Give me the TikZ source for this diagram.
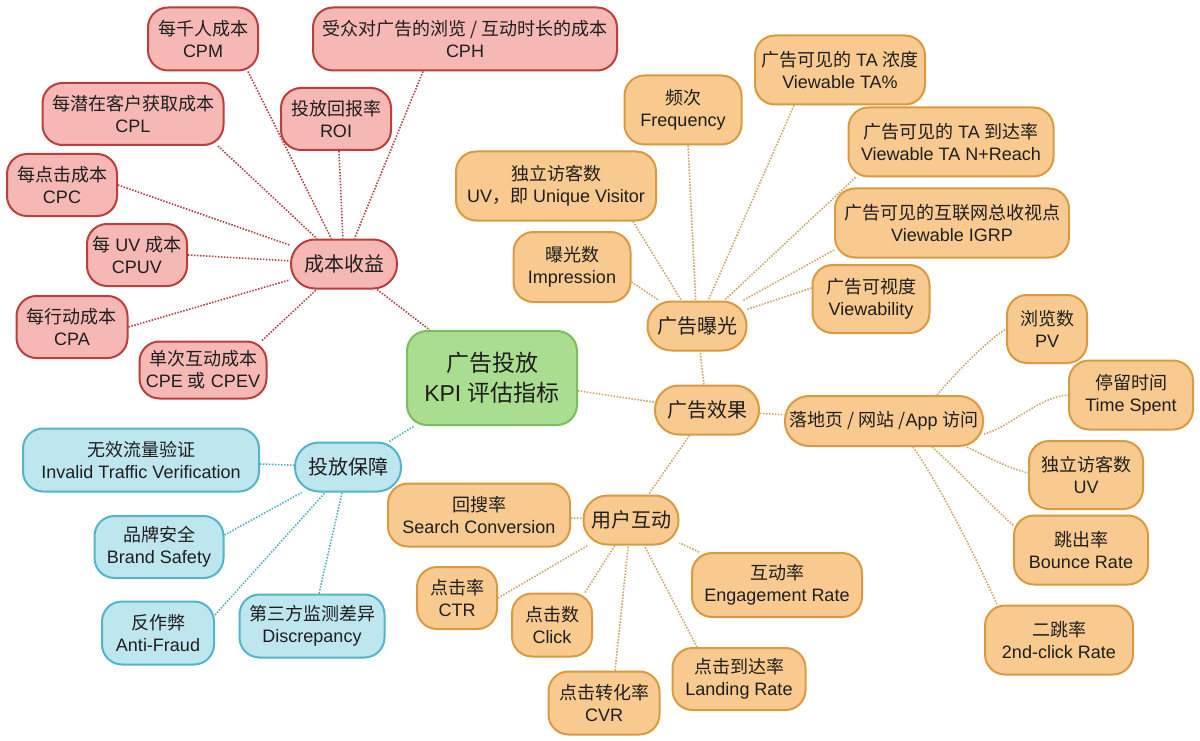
\documentclass[tikz,border=0pt]{standalone}
\usepackage{fontspec}
\setmainfont{Liberation Sans}
\newfontfamily\cjk{Noto Sans CJK SC}
\definecolor{rfill}{HTML}{F6B8B5}
\definecolor{rline}{HTML}{B9403C}
\definecolor{gfill}{HTML}{A9DD8F}
\definecolor{gline}{HTML}{79BF5C}
\definecolor{bfill}{HTML}{BEE6EF}
\definecolor{bline}{HTML}{52B5C9}
\definecolor{ofill}{HTML}{F8CA8F}
\definecolor{oline}{HTML}{D99A42}
\definecolor{redge}{HTML}{A94541}
\definecolor{bedge}{HTML}{4CAFC5}
\definecolor{oedge}{HTML}{CDA566}
\definecolor{txt}{HTML}{1E1E1E}
\tikzset{
  box/.style={draw, line width=2pt, rounded corners=20pt, align=center, inner sep=0pt,
    font=\fontsize{18}{22}\selectfont, text=txt},
  hub/.style={box, rounded corners=24pt, font=\fontsize{20}{24}\selectfont\cjk},
  sz/.style 2 args={minimum width=#1pt, minimum height=#2pt},
  rbox/.style={box, fill=rfill, draw=rline},
  bbox/.style={box, fill=bfill, draw=bline},
  obox/.style={box, fill=ofill, draw=oline},
  redg/.style={draw=redge, line width=1.6pt, dash pattern=on 1.5pt off 1.5pt},
  bedg/.style={draw=bedge, line width=1.6pt, dash pattern=on 1.5pt off 1.5pt},
  oedg/.style={draw=oedge, line width=1.6pt, dash pattern=on 1.5pt off 1.5pt}
}
\begin{document}
\begin{tikzpicture}[x=1pt,y=-1pt]
\useasboundingbox[fill=white] (0,0) rectangle (1200,741);

% red group
\node[rbox, sz={110}{63}] (cpm) at (203,39) {{\cjk 每千人成本}\\CPM};
\node[rbox, sz={304}{63}] (cph) at (465,39) {{\cjk 受众对广告的浏览 / 互动时长的成本}\\CPH};
\node[rbox, sz={181}{62}] (cpl) at (133,114) {{\cjk 每潜在客户获取成本}\\CPL};
\node[rbox, sz={110}{62}] (roi) at (336,119) {{\cjk 投放回报率}\\ROI};
\node[rbox, sz={110}{62}] (cpc) at (62,185) {{\cjk 每点击成本}\\CPC};
\node[rbox, sz={100}{62}] (cpuv) at (137,255) {{\cjk 每} UV {\cjk 成本}\\CPUV};
\node[rbox, hub, sz={106}{49}] (cb) at (344,264) {成本收益};
\node[rbox, sz={111}{62}] (cpa) at (72,327) {{\cjk 每行动成本}\\CPA};
\node[rbox, sz={127}{57}] (cpe) at (203,370) {{\cjk 单次互动成本}\\CPE {\cjk 或} CPEV};

% center
\node[box, fill=gfill, draw=gline, sz={170}{94}, font=\fontsize{23}{30}\selectfont] (kpi) at (492,378)
  {{\cjk 广告投放}\\KPI {\cjk 评估指标}};

% blue group
\node[bbox, hub, sz={106}{49}] (tb) at (348,467) {投放保障};
\node[bbox, sz={236}{63}] (ivt) at (141,460) {{\cjk 无效流量验证}\\Invalid Traffic Verification};
\node[bbox, sz={129}{62}] (bs) at (159,547) {{\cjk 品牌安全}\\Brand Safety};
\node[bbox, sz={112}{63}] (af) at (158,633) {{\cjk 反作弊}\\Anti-Fraud};
\node[bbox, sz={145}{63}] (dis) at (312,626) {{\cjk 第三方监测差异}\\Discrepancy};

% orange hubs
\node[obox, hub, sz={99}{49}] (bg) at (697,326) {广告曝光};
\node[obox, hub, sz={104}{49}] (xg) at (707,410) {广告效果};
\node[obox, hub, sz={95}{49}] (hd) at (631,520) {用户互动};
\node[obox, sz={198}{50}, rounded corners=24pt] (ldy) at (884,421) {{\cjk 落地页 / 网站 /}App {\cjk 访问}};

% exposure children
\node[obox, sz={117}{69}] (freq) at (683,110) {{\cjk 频次}\\Frequency};
\node[obox, sz={170}{69}] (tap) at (840,70) {{\cjk 广告可见的} TA {\cjk 浓度}\\Viewable TA\%};
\node[obox, sz={205}{69}] (tar) at (951,142) {{\cjk 广告可见的} TA {\cjk 到达率}\\Viewable TA N+Reach};
\node[obox, sz={200}{69}] (uv1) at (556,186) {{\cjk 独立访客数}\\UV{\cjk ，即} Unique Visitor};
\node[obox, sz={234}{69}] (igrp) at (952,223) {{\cjk 广告可见的互联网总收视点}\\Viewable IGRP};
\node[obox, sz={117}{70}] (imp) at (572,267) {{\cjk 曝光数}\\Impression};
\node[obox, sz={117}{68}] (vb) at (871,299) {{\cjk 广告可视度}\\Viewability};

% user interaction children
\node[obox, sz={182}{63}] (sc) at (479,515) {{\cjk 回搜率}\\Search Conversion};
\node[obox, sz={80}{62}] (ctr) at (457,598) {{\cjk 点击率}\\CTR};
\node[obox, sz={80}{63}] (clk) at (552,625) {{\cjk 点击数}\\Click};
\node[obox, sz={111}{63}] (cvr) at (604,703) {{\cjk 点击转化率}\\CVR};
\node[obox, sz={133}{62}] (lr) at (739,679) {{\cjk 点击到达率}\\Landing Rate};
\node[obox, sz={170}{64}] (er) at (777,585) {{\cjk 互动率}\\Engagement Rate};

% landing children
\node[obox, sz={80}{68}] (pv) at (1047,329) {{\cjk 浏览数}\\PV};
\node[obox, sz={124}{69}] (ts) at (1131,395) {{\cjk 停留时间}\\Time Spent};
\node[obox, sz={114}{68}] (uv2) at (1086,475) {{\cjk 独立访客数}\\UV};
\node[obox, sz={134}{69}] (br) at (1081,550) {{\cjk 跳出率}\\Bounce Rate};
\node[obox, sz={148}{69}] (sr) at (1059,640) {{\cjk 二跳率}\\2nd-click Rate};

% red edges
\draw[redg] (cb) -- (kpi);
\draw[redg] ([xshift=45pt]cpm.south) -- (cb);
\draw[redg] ([xshift=85pt]cpl.south) -- (cb);
\draw[redg] ([xshift=3pt]roi.south) -- (cb);
\draw[redg] ([xshift=-42pt]cph.south) -- (cb);
\draw[redg] (cpc.east) -- (cb);
\draw[redg] (cpuv.east) -- (cb);
\draw[redg] (cpa.east) -- (cb);
\draw[redg] ([xshift=59pt]cpe.north) -- (cb);

% blue edges
\draw[bedg] (tb) -- (kpi);
\draw[bedg] (ivt) -- (tb);
\draw[bedg] ([yshift=12pt]bs.east) -- (tb);
\draw[bedg] ([yshift=18pt]af.east) -- (tb);
\draw[bedg] ([xshift=7pt]dis.north) -- (tb);

% orange edges
\draw[oedg] (kpi) -- (xg);
\draw[oedg] (xg) -- (bg);
\draw[oedg] (xg) -- (ldy);
\draw[oedg] (xg) -- (hd);
\draw[oedg] ([xshift=5pt]freq.south) -- (bg);
\draw[oedg] ([xshift=-46pt]tap.south) -- (bg);
\draw[oedg] ([xshift=8pt]tar.south west) -- (bg);
\draw[oedg] ([xshift=77pt]uv1.south) -- (bg);
\draw[oedg] ([yshift=-27pt]igrp.west) -- (bg);
\draw[oedg] ([yshift=-15pt]imp.east) -- (bg);
\draw[oedg] ([yshift=11pt]vb.west) -- (bg);
\draw[oedg] (sc) -- (hd);
\draw[oedg] (ctr.east) -- (hd);
\draw[oedg] ([xshift=33pt]clk.north) -- (hd);
\draw[oedg] ([xshift=11pt]cvr.north) -- (hd);
\draw[oedg] ([xshift=-42pt]lr.north) -- (hd);
\draw[oedg] ([xshift=8pt]er.north west) -- (hd);
\draw[oedg] ([xshift=53pt]ldy.north) .. controls +(15,-18) and +(-20,12) .. (pv.west);
\draw[oedg] ([yshift=-13pt]ldy.east) .. controls +(25,-6) and +(-30,2) .. (ts.west);
\draw[oedg] ([xshift=83pt]ldy.south) .. controls +(18,9) and +(-20,-5) .. ([yshift=2pt]uv2.west);
\draw[oedg] ([xshift=48pt]ldy.south) .. controls +(25,22) and +(-25,-22) .. ([yshift=25pt]br.west);
\draw[oedg] ([xshift=29pt]ldy.south) .. controls +(25,35) and +(-20,-45) .. ([xshift=13pt]sr.north west);
\end{tikzpicture}
\end{document}
